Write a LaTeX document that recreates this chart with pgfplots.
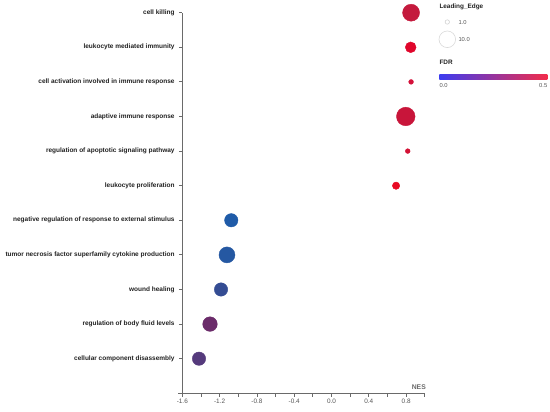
\documentclass[border=0pt]{standalone}
\usepackage{pgfplots}
\pgfplotsset{compat=1.18}
\usepackage{fontspec}
\setmainfont{Liberation Sans}
\definecolor{axgray}{HTML}{6A6A6A}
\definecolor{ytext}{HTML}{222222}
\definecolor{lgray}{HTML}{555555}
\definecolor{cA}{HTML}{C41A3D}
\definecolor{cB}{HTML}{E0062B}
\definecolor{cC}{HTML}{D4113A}
\definecolor{cD}{HTML}{C8153A}
\definecolor{cE}{HTML}{D31235}
\definecolor{cF}{HTML}{E80A23}
\definecolor{cG}{HTML}{1F5BA8}
\definecolor{cH}{HTML}{2558A2}
\definecolor{cI}{HTML}{344C93}
\definecolor{cJ}{HTML}{6B2C6A}
\definecolor{cK}{HTML}{553A7C}
\definecolor{cbblue}{HTML}{3C3CF0}
\definecolor{cbred}{HTML}{F22C4A}
\begin{document}
\begin{tikzpicture}[x=1pt,y=1pt]
\useasboundingbox (0,0) rectangle (550,412);
\begin{axis}[
  at={(182.3pt,18.7pt)}, anchor=south west,
  scale only axis, width=242.5pt, height=380.6pt,
  xmin=-1.6, xmax=1.0, ymin=-1, ymax=10,
  axis x line*=bottom, axis y line*=left,
  axis line style={axgray, line width=0.9pt, -},
  xtick={-1.6,-1.2,-0.8,-0.4,0,0.4,0.8},
  xticklabels={-1.6,-1.2,-0.8,-0.4,0.0,0.4,0.8},
  minor xtick={-1.4,-1.0,-0.6,-0.2,0.2,0.6,1.0},
  ytick={0,1,2,3,4,5,6,7,8,9,10},
  yticklabels={cellular component disassembly, regulation of body fluid levels, wound healing, tumor necrosis factor superfamily cytokine production, negative regulation of response to external stimulus, leukocyte proliferation, regulation of apoptotic signaling pathway, adaptive immune response, cell activation involved in immune response, leukocyte mediated immunity, cell killing},
  tick align=outside, major tick length=3.5pt, minor tick length=3.5pt,
  tick style={axgray, line width=0.8pt},
  yticklabel style={font=\bfseries\fontsize{6.5}{7}\selectfont, text=ytext, inner sep=0pt, xshift=-4pt},
  xticklabel style={font=\fontsize{6.4}{7}\selectfont, text=lgray, inner sep=0pt, yshift=-2.5pt},
  /pgf/number format/assume math mode=true,
  clip=false,
]
\addplot[only marks, mark=*, color=cA, mark size=8.5pt] coordinates {(0.853,10)};
\addplot[only marks, mark=*, color=cB, mark size=5.4pt] coordinates {(0.849,9)};
\addplot[only marks, mark=*, color=cC, mark size=2.4pt] coordinates {(0.853,8)};
\addplot[only marks, mark=*, color=cD, mark size=9.3pt] coordinates {(0.796,7)};
\addplot[only marks, mark=*, color=cE, mark size=2.4pt] coordinates {(0.817,6)};
\addplot[only marks, mark=*, color=cF, mark size=3.7pt] coordinates {(0.692,5)};
\addplot[only marks, mark=*, color=cG, mark size=6.7pt] coordinates {(-1.075,4)};
\addplot[only marks, mark=*, color=cH, mark size=8.0pt] coordinates {(-1.121,3)};
\addplot[only marks, mark=*, color=cI, mark size=6.7pt] coordinates {(-1.185,2)};
\addplot[only marks, mark=*, color=cJ, mark size=7.3pt] coordinates {(-1.303,1)};
\addplot[only marks, mark=*, color=cK, mark size=6.7pt] coordinates {(-1.421,0)};
\draw[axgray, line width=0.9pt] (axis cs:-1.6,-1) -- ([xshift=-4pt]axis cs:-1.6,-1);
\end{axis}
\node[anchor=east, inner sep=0pt, font=\bfseries\fontsize{6.8}{7}\selectfont, text=axgray] at (426,25.3) {NES};
% size legend
\node[anchor=west, inner sep=0pt, font=\bfseries\fontsize{6.4}{7}\selectfont, text=ytext] at (439.3,404.7) {Leading\_Edge};
\draw[gray!35, line width=0.6pt] (447.3,390) circle (2.2);
\node[anchor=west, inner sep=0pt, font=\fontsize{5.8}{6}\selectfont, text=lgray] at (458.3,389.2) {1.0};
\draw[gray!30, line width=0.6pt] (447.3,372.7) circle (8.3);
\node[anchor=west, inner sep=0pt, font=\fontsize{5.8}{6}\selectfont, text=lgray] at (458.3,372.2) {10.0};
% colour legend
\node[anchor=west, inner sep=0pt, font=\bfseries\fontsize{6.4}{7}\selectfont, text=ytext] at (439.3,349.3) {FDR};
\shade[left color=cbblue, right color=cbred] (439.3,332) rectangle (547.3,337);
\node[anchor=west, inner sep=0pt, font=\fontsize{5.8}{6}\selectfont, text=lgray] at (439.3,326.3) {0.0};
\node[anchor=east, inner sep=0pt, font=\fontsize{5.8}{6}\selectfont, text=lgray] at (547.5,326.3) {0.5};
\end{tikzpicture}
\end{document}
